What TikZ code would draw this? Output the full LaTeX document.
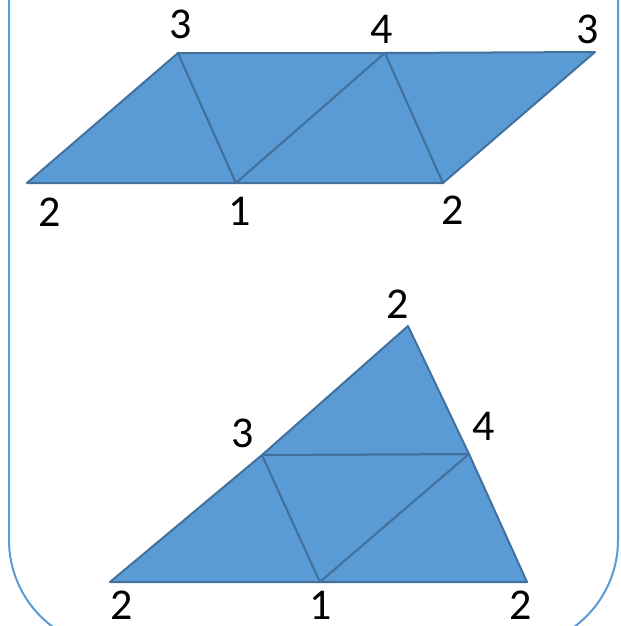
\documentclass[tikz,border=0pt]{standalone}
\usepackage{fontspec}
\setmainfont{Carlito}
\definecolor{tilefill}{HTML}{5B9BD5}
\definecolor{tileedge}{HTML}{41719C}
\definecolor{frameblue}{HTML}{5B9BD5}

\begin{document}
\begin{tikzpicture}[
    x=0.75pt, y=-0.75pt,
    every node/.style={font=\fontsize{33}{36}\selectfont, inner sep=0pt},
    tile/.style={fill=tilefill, draw=tileedge, line width=1.5pt, line join=round},
    frame/.style={draw=frameblue, line width=1.5pt, rounded corners=81pt}
]
\useasboundingbox (0,0) rectangle (621,626);
\clip (0,0) rectangle (621,626);
\draw[frame] (9,-120) rectangle (618,648);

% upper strip
\coordinate (a2) at (27,183);
\coordinate (a3) at (178,53);
\coordinate (a1) at (236,183);
\coordinate (a4) at (385,53);
\coordinate (a2r) at (443,183);
\coordinate (a3r) at (595,52);
\filldraw[tile] (a2) -- (a3) -- (a1) -- cycle;
\filldraw[tile] (a3) -- (a4) -- (a1) -- cycle;
\filldraw[tile] (a1) -- (a4) -- (a2r) -- cycle;
\filldraw[tile] (a4) -- (a3r) -- (a2r) -- cycle;
\node (la3) at (181,24) {3};
\node (la4) at (382,29) {4};
\node (la3r) at (588,29) {3};
\node (la2) at (50,212) {2};
\node (la1) at (240,211) {1};
\node (la2r) at (453,210) {2};

% lower triangle
\coordinate (b2) at (110,582);
\coordinate (b3) at (262,455);
\coordinate (b1) at (320,582);
\coordinate (b4) at (469,454);
\coordinate (b2r) at (527,582);
\coordinate (b2t) at (408,326);
\filldraw[tile] (b2) -- (b3) -- (b1) -- cycle;
\filldraw[tile] (b3) -- (b4) -- (b1) -- cycle;
\filldraw[tile] (b1) -- (b4) -- (b2r) -- cycle;
\filldraw[tile] (b3) -- (b2t) -- (b4) -- cycle;
\node (lb2t) at (398,304) {2};
\node (lb3) at (243,433) {3};
\node (lb4) at (484,426) {4};
\node (lb2) at (122,605) {2};
\node (lb1) at (321,605) {1};
\node (lb2r) at (521,605) {2};
\end{tikzpicture}
\end{document}
